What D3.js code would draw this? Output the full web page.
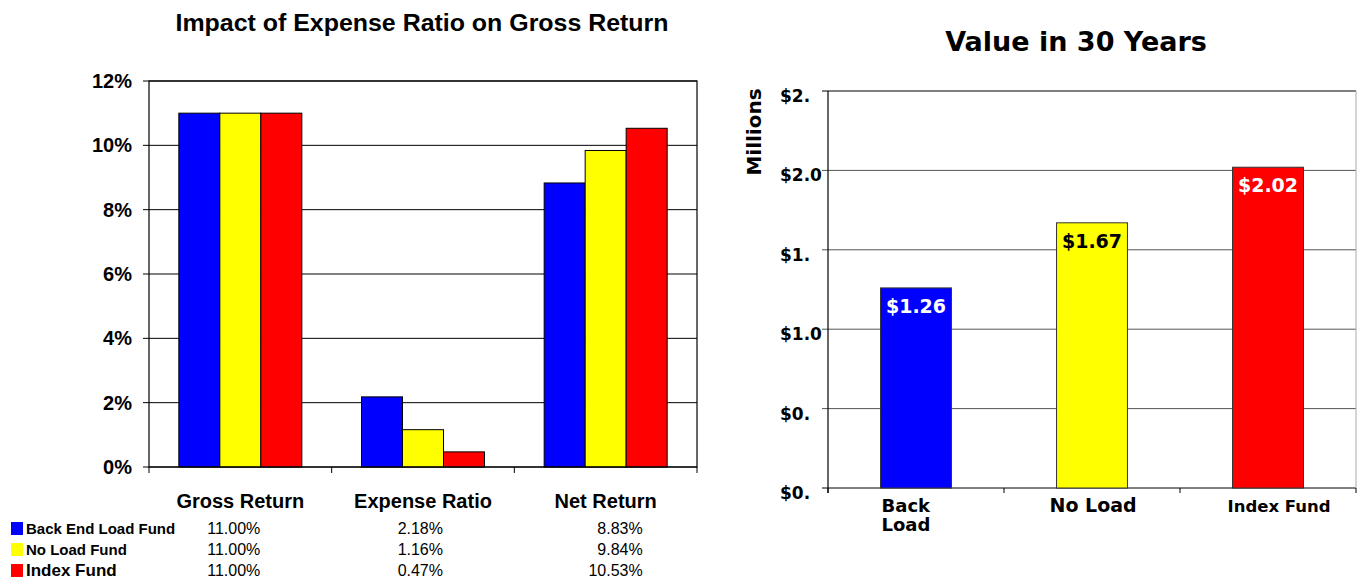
<!DOCTYPE html>
<html lang="en">
<head>
  <meta charset="UTF-8">
  <title>Expense Ratio Impact and Value in 30 Years</title>
  <script src="https://d3js.org/d3.v7.min.js"></script>
  <style>
    body {
      margin: 0;
      padding: 0;
      background: #fff;
      overflow: hidden;
    }
    .left text {
      font-family: "Liberation Sans", Arial, sans-serif;
      fill: #000;
    }
    .right text {
      font-family: "DejaVu Sans", Verdana, sans-serif;
      font-weight: bold;
      fill: #000;
    }
  </style>
</head>
<body>
  <div id="chart"></div>

  <script>
    // left chart data
    const returnCats = ["Gross Return", "Expense Ratio", "Net Return"];
    const funds = ["Back End Load Fund", "No Load Fund", "Index Fund"];
    const fundColors = ["#0000ff", "#ffff00", "#ff0000"];
    const backEndLoad = [11.00, 2.18, 8.83];
    const noLoad = [11.00, 1.16, 9.84];
    const indexFund = [11.00, 0.47, 10.53];
    const pctTicks = [0, 2, 4, 6, 8, 10, 12];

    // right chart data
    const valueCats = ["Back Load", "No Load", "Index Fund"];
    const value30 = [1.26, 1.67, 2.02];
    const valueTicks = [0, 0.5, 1, 1.5, 2, 2.5];
    const valueTickLabels = ["$0.", "$0.", "$1.0", "$1.", "$2.0", "$2."];

    const series = [backEndLoad, noLoad, indexFund];

    const width = 1357;
    const height = 579;

    const svg = d3.select("#chart")
                  .append("svg")
                  .attr("width", width)
                  .attr("height", height);

    // ---------- left: Impact of Expense Ratio ----------
    const left = svg.append("g").attr("class", "left");

    const x0 = d3.scaleBand()
                 .domain(returnCats)
                 .range([149, 697]);

    const groupW = 123;
    const x1 = d3.scaleBand()
                 .domain(funds)
                 .range([0, groupW]);

    const y = d3.scaleLinear()
                .domain([0, 12])
                .range([467, 81]);

    left.append("text")
        .attr("x", 422)
        .attr("y", 31)
        .attr("text-anchor", "middle")
        .attr("font-size", 23)
        .attr("font-weight", "bold")
        .attr("textLength", 493)
        .attr("lengthAdjust", "spacingAndGlyphs")
        .text("Impact of Expense Ratio on Gross Return");

    // gridlines
    left.selectAll(".grid")
        .data(pctTicks)
        .enter()
        .append("line")
        .attr("x1", 143)
        .attr("x2", 697)
        .attr("y1", d => y(d))
        .attr("y2", d => y(d))
        .attr("stroke", "#000")
        .attr("stroke-width", 1);

    left.selectAll(".ylab")
        .data(pctTicks)
        .enter()
        .append("text")
        .attr("x", 132)
        .attr("y", d => y(d) + 7)
        .attr("text-anchor", "end")
        .attr("font-size", 20)
        .attr("font-weight", "bold")
        .text(d => d + "%");

    // bars
    const groups = left.selectAll(".grp")
        .data(returnCats)
        .enter()
        .append("g")
        .attr("transform", d => `translate(${x0(d) + (x0.bandwidth() - groupW) / 2},0)`);

    groups.selectAll("rect")
        .data((c, ci) => funds.map((f, fi) => ({ f, fi, v: series[fi][ci] })))
        .enter()
        .append("rect")
        .attr("x", d => x1(d.f))
        .attr("y", d => y(d.v))
        .attr("width", x1.bandwidth())
        .attr("height", d => y(0) - y(d.v))
        .attr("fill", d => fundColors[d.fi])
        .attr("stroke", "#000")
        .attr("stroke-width", 1);

    // plot frame
    left.append("rect")
        .attr("x", 149)
        .attr("y", y(12))
        .attr("width", 697 - 149)
        .attr("height", y(0) - y(12))
        .attr("fill", "none")
        .attr("stroke", "#000")
        .attr("stroke-width", 1.2);

    // category ticks
    const leftEdges = returnCats.map(c => x0(c)).concat([x0.range()[1]]);
    left.selectAll(".xtick")
        .data(leftEdges)
        .enter()
        .append("line")
        .attr("x1", d => d)
        .attr("x2", d => d)
        .attr("y1", y(0))
        .attr("y2", y(0) + 6)
        .attr("stroke", "#000");

    left.selectAll(".xlab")
        .data(returnCats)
        .enter()
        .append("text")
        .attr("x", d => x0(d) + x0.bandwidth() / 2)
        .attr("y", 508)
        .attr("text-anchor", "middle")
        .attr("font-size", 20)
        .attr("font-weight", "bold")
        .text(d => d);

    // data table
    const rowY = [534, 555, 576];
    const legendSize = [15, 15, 17];
    const colOffset = [20, 20, 37];

    funds.forEach((f, fi) => {
      left.append("rect")
          .attr("x", 11)
          .attr("y", rowY[fi] - 12)
          .attr("width", 12)
          .attr("height", 13)
          .attr("fill", fundColors[fi]);

      left.append("text")
          .attr("x", 26)
          .attr("y", rowY[fi])
          .attr("font-size", legendSize[fi])
          .attr("font-weight", "bold")
          .text(f);

      returnCats.forEach((c, ci) => {
        left.append("text")
            .attr("x", x0(c) + x0.bandwidth() / 2 + colOffset[ci])
            .attr("y", rowY[fi])
            .attr("text-anchor", "end")
            .attr("font-size", 16)
            .text(series[fi][ci].toFixed(2) + "%");
      });
    });

    // ---------- right: Value in 30 Years ----------
    const right = svg.append("g").attr("class", "right");

    const xr = d3.scaleBand()
                 .domain(valueCats)
                 .range([828, 1356])
                 .paddingInner(0.597)
                 .paddingOuter(0.2985);

    const yr = d3.scaleLinear()
                 .domain([0, 2.5])
                 .range([488, 91]);

    right.append("text")
         .attr("x", 1076)
         .attr("y", 51)
         .attr("text-anchor", "middle")
         .attr("font-size", 27)
         .text("Value in 30 Years");

    right.append("text")
         .attr("transform", "translate(761,132) rotate(-90)")
         .attr("text-anchor", "middle")
         .attr("font-size", 20)
         .text("Millions");

    right.selectAll(".grid")
         .data(valueTicks)
         .enter()
         .append("line")
         .attr("x1", 822)
         .attr("x2", 1356)
         .attr("y1", d => yr(d))
         .attr("y2", d => yr(d))
         .attr("stroke", (d, i) => (i === 0 || i === valueTicks.length - 1) ? "#000" : "#555")
         .attr("stroke-width", 1);

    right.selectAll(".ylab")
         .data(valueTicks)
         .enter()
         .append("text")
         .attr("x", 780)
         .attr("y", d => yr(d) + 11)
         .attr("font-size", 17)
         .text((d, i) => valueTickLabels[i]);

    right.selectAll(".bar")
         .data(value30)
         .enter()
         .append("rect")
         .attr("x", (d, i) => xr(valueCats[i]))
         .attr("y", d => yr(d))
         .attr("width", xr.bandwidth())
         .attr("height", d => yr(0) - yr(d))
         .attr("fill", (d, i) => fundColors[i])
         .attr("stroke", "#333")
         .attr("stroke-width", 1);

    right.selectAll(".vlab")
         .data(value30)
         .enter()
         .append("text")
         .attr("x", (d, i) => xr(valueCats[i]) + xr.bandwidth() / 2)
         .attr("y", d => yr(d) + 25)
         .attr("text-anchor", "middle")
         .attr("font-size", 19)
         .style("fill", (d, i) => i === 1 ? "#000" : "#fff")
         .text(d => "$" + d.toFixed(2));

    // frame
    right.append("line")
         .attr("x1", 828).attr("x2", 828)
         .attr("y1", yr(2.5)).attr("y2", yr(0) + 5)
         .attr("stroke", "#000").attr("stroke-width", 1.2);
    right.append("line")
         .attr("x1", 1356).attr("x2", 1356)
         .attr("y1", yr(2.5)).attr("y2", yr(0))
         .attr("stroke", "#aaa");

    const rightEdges = valueCats.map(c => xr(c) - xr.step() * xr.paddingOuter()).concat([1356]);
    right.selectAll(".xtick")
         .data(rightEdges)
         .enter()
         .append("line")
         .attr("x1", d => d)
         .attr("x2", d => d)
         .attr("y1", yr(0))
         .attr("y2", yr(0) + 5)
         .attr("stroke", "#000");

    // category labels
    const catLines = [["Back", "Load"], ["No Load"], ["Index Fund"]];
    const catSize = [18, 19, 16.5];
    const catShift = [1, -7, -5];
    catLines.forEach((lines, i) => {
      const t = right.append("text")
           .attr("x", xr(valueCats[i]) + catShift[i])
           .attr("y", 512)
           .attr("font-size", catSize[i]);
      lines.forEach((ln, li) => {
        t.append("tspan")
         .attr("x", xr(valueCats[i]) + catShift[i])
         .attr("dy", li === 0 ? 0 : 19)
         .text(ln);
      });
    });
  </script>
</body>
</html>
